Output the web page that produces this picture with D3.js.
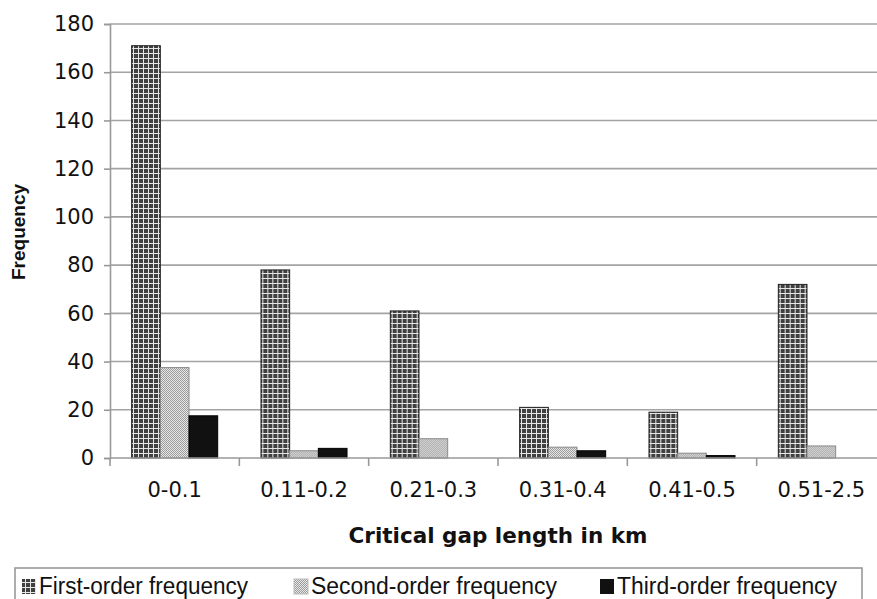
<!DOCTYPE html>
<html>
<head>
<meta charset="utf-8">
<script src="https://cdn.jsdelivr.net/npm/d3@7"></script>
<style>
  body { margin: 0; background: #fff; }
  svg { display: block; }
</style>
</head>
<body>
<div id="vis"></div>
<script>
const categories = ["0-0.1", "0.11-0.2", "0.21-0.3", "0.31-0.4", "0.41-0.5", "0.51-2.5"];
const firstOrder = [171, 78, 61, 21, 19, 72];
const secondOrder = [37.5, 3, 8, 4.5, 2, 5];
const thirdOrder = [17.5, 4, 0, 3, 1, 0];
const seriesNames = ["First-order frequency", "Second-order frequency", "Third-order frequency"];
const yTicks = [0, 20, 40, 60, 80, 100, 120, 140, 160, 180];

const svgWidth = 877,
  svgHeight = 599,
  plotLeft = 110,
  plotRight = 886,
  plotTop = 24,
  plotBottom = 458;

const svg = d3
  .select("#vis")
  .append("svg")
  .attr("width", svgWidth)
  .attr("height", svgHeight);

const defs = svg.append("defs");

// plaid for first order
const p1 = defs.append("pattern").attr("id", "p1").attr("patternUnits", "userSpaceOnUse")
  .attr("width", 5).attr("height", 5);
p1.append("rect").attr("width", 5).attr("height", 5).attr("fill", "#404040");
p1.append("rect").attr("x", 3).attr("width", 1).attr("height", 5).attr("fill", "#e6e6e6");
p1.append("rect").attr("y", 3).attr("width", 5).attr("height", 1).attr("fill", "#e6e6e6");

// fine dots for second order
const p2 = defs.append("pattern").attr("id", "p2").attr("patternUnits", "userSpaceOnUse")
  .attr("width", 2).attr("height", 2);
p2.append("rect").attr("width", 2).attr("height", 2).attr("fill", "#e8e8e8");
p2.append("rect").attr("width", 1).attr("height", 1).attr("fill", "#9a9a9a");
p2.append("rect").attr("x", 1).attr("y", 1).attr("width", 1).attr("height", 1).attr("fill", "#9a9a9a");

const fills = ["url(#p1)", "url(#p2)", "#111"];
const strokes = ["#222", "#8a8a8a", "#000"];

const x0 = d3.scaleBand().domain(categories).range([plotLeft, plotRight]);
const x1 = d3.scaleBand().domain(seriesNames).range([0, x0.bandwidth()]).paddingOuter(0.755);
const y = d3.scaleLinear().domain([0, 180]).range([plotBottom, plotTop]);

// gridlines
svg.append("g")
  .selectAll("line")
  .data(yTicks.filter((d) => d > 0))
  .enter()
  .append("line")
  .attr("x1", plotLeft)
  .attr("x2", svgWidth)
  .attr("y1", (d) => y(d))
  .attr("y2", (d) => y(d))
  .attr("stroke", "#a3a3a3")
  .attr("stroke-width", 1.6);

// y axis
const yAxis = svg.append("g")
  .attr("transform", `translate(${plotLeft},0)`)
  .call(d3.axisLeft(y).tickValues(yTicks).tickSize(6).tickPadding(10));
yAxis.select(".domain").attr("stroke", "#999").attr("stroke-width", 1.6);
yAxis.selectAll(".tick line").attr("stroke", "#999").attr("stroke-width", 1.6);
yAxis.selectAll("text").attr("font-family", "DejaVu Sans").attr("font-size", 21).attr("fill", "#111");

// bars
const table = categories.map((c, i) => ({
  cat: c,
  vals: [firstOrder[i], secondOrder[i], thirdOrder[i]],
}));

svg.append("g")
  .selectAll("g")
  .data(table)
  .enter()
  .append("g")
  .attr("transform", (d) => `translate(${x0(d.cat)},0)`)
  .selectAll("rect")
  .data((d) => d.vals.map((v, k) => ({ v: v, k: k })).filter((e) => e.v > 0))
  .enter()
  .append("rect")
  .attr("x", (d) => x1(seriesNames[d.k]))
  .attr("width", x1.bandwidth())
  .attr("y", (d) => y(d.v))
  .attr("height", (d) => y(0) - y(d.v))
  .attr("fill", (d) => fills[d.k])
  .attr("stroke", (d) => strokes[d.k])
  .attr("stroke-width", 1);

// x axis
const xAxis = svg.append("g")
  .attr("transform", `translate(0,${plotBottom})`)
  .call(d3.axisBottom(x0).tickSize(0).tickPadding(24));
xAxis.select(".domain").remove();
xAxis.selectAll("text").attr("font-family", "DejaVu Sans").attr("font-size", 21).attr("fill", "#111");
svg.append("line")
  .attr("x1", plotLeft).attr("x2", svgWidth)
  .attr("y1", plotBottom).attr("y2", plotBottom)
  .attr("stroke", "#999").attr("stroke-width", 1.6);
svg.append("g")
  .selectAll("line")
  .data(categories)
  .enter()
  .append("line")
  .attr("x1", (d) => x0(d))
  .attr("x2", (d) => x0(d))
  .attr("y1", plotBottom)
  .attr("y2", plotBottom + 8)
  .attr("stroke", "#999")
  .attr("stroke-width", 1.6);

// titles
svg.append("text")
  .attr("x", (plotLeft + plotRight) / 2)
  .attr("y", 543)
  .attr("text-anchor", "middle")
  .attr("font-family", "DejaVu Sans")
  .attr("font-weight", "bold")
  .attr("font-size", 21.5)
  .attr("fill", "#111")
  .text("Critical gap length in km");

svg.append("text")
  .attr("transform", "translate(25,232) rotate(-90)")
  .attr("text-anchor", "middle")
  .attr("font-family", "Liberation Sans")
  .attr("font-weight", "bold")
  .attr("font-size", 19)
  .attr("fill", "#111")
  .text("Frequency");

// legend
svg.append("rect")
  .attr("x", 15).attr("y", 568)
  .attr("width", 847).attr("height", 40)
  .attr("fill", "none")
  .attr("stroke", "#999")
  .attr("stroke-width", 1.6);

const legendX = [22, 294, 600];
const legendW = [209, 246, 220];
const lg = svg.append("g")
  .selectAll("g")
  .data(seriesNames)
  .enter()
  .append("g")
  .attr("transform", (d, i) => `translate(${legendX[i]},579)`);
lg.append("rect")
  .attr("width", 14).attr("height", 15)
  .attr("fill", (d, i) => fills[i])
  .attr("stroke", (d, i) => (i == 1 ? "#bbb" : "none"));
lg.append("text")
  .attr("x", 17)
  .attr("y", 15)
  .attr("font-family", "Liberation Sans")
  .attr("font-size", 23)
  .attr("fill", "#111")
  .attr("textLength", (d, i) => legendW[i])
  .attr("lengthAdjust", "spacingAndGlyphs")
  .text((d) => d);
</script>
</body>
</html>
